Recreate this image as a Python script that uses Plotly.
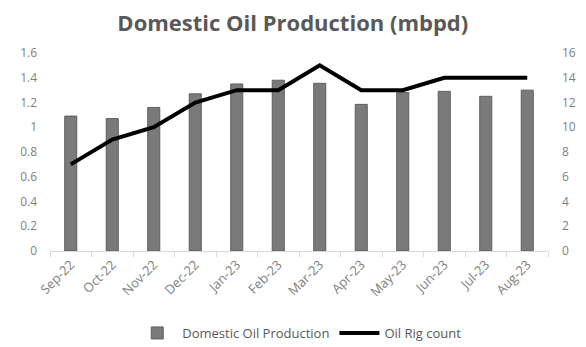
import plotly.graph_objects as go

months = ["Sep-22", "Oct-22", "Nov-22", "Dec-22", "Jan-23", "Feb-23",
          "Mar-23", "Apr-23", "May-23", "Jun-23", "Jul-23", "Aug-23"]
production = [1.09, 1.07, 1.16, 1.27, 1.35, 1.38, 1.355, 1.185, 1.28, 1.29, 1.25, 1.30]
rig_count = [7, 9, 10, 12, 13, 13, 15, 13, 13, 14, 14, 14]

left_ticks = [0, 0.2, 0.4, 0.6, 0.8, 1.0, 1.2, 1.4, 1.6]
left_labels = ["0", "0.2", "0.4", "0.6", "0.8", "1", "1.2", "1.4", "1.6"]
right_ticks = [0, 2, 4, 6, 8, 10, 12, 14, 16]

font_family = "'Open Sans', 'Noto Sans', sans-serif"
tick_color = "#7f7f7f"

fig = go.Figure()
fig.add_trace(go.Bar(
    x=months, y=production, name="Domestic Oil Production",
    marker=dict(color="#7a7a7a", line=dict(color="#5e5e5e", width=1)),
    width=0.29, yaxis="y"))
fig.add_trace(go.Scatter(
    x=months, y=rig_count, name="Oil Rig count", mode="lines",
    line=dict(color="#000000", width=4), yaxis="y2"))

fig.update_layout(
    width=586, height=347,
    margin=dict(l=42, r=46, t=45, b=104, autoexpand=False),
    paper_bgcolor="white", plot_bgcolor="white",
    title=dict(text="<b>Domestic Oil Production (mbpd)</b>", x=0.486, xanchor="center",
               xref="container", yref="container", y=1 - 15 / 347, yanchor="middle",
               font=dict(family=font_family, size=22, color="#595959")),
    font=dict(family=font_family, color=tick_color, size=12),
    xaxis=dict(showgrid=False, showline=True, linecolor="#d9d9d9", linewidth=1,
               ticks="outside", tickson="boundaries", ticklen=5, tickcolor="#d9d9d9",
               tickangle=-45, tickfont=dict(size=13, color=tick_color), automargin=False),
    yaxis=dict(range=[0, 1.6], tickvals=left_ticks, ticktext=left_labels,
               showgrid=False, zeroline=False, showline=False, automargin=False,
               tickfont=dict(size=12, color=tick_color), ticklabelstandoff=12),
    yaxis2=dict(range=[0, 16], tickvals=right_ticks, overlaying="y", side="right",
                showgrid=False, zeroline=False, showline=False, automargin=False,
                tickfont=dict(size=12, color=tick_color), ticklabelstandoff=13),
    legend=dict(orientation="h", x=0.497, xanchor="center", xref="container",
                yref="container", y=1 - 325 / 347, yanchor="middle",
                font=dict(size=13, color="#595959"), itemwidth=40),
    bargap=0.7,
    showlegend=True,
)

fig.write_html("out.html")
